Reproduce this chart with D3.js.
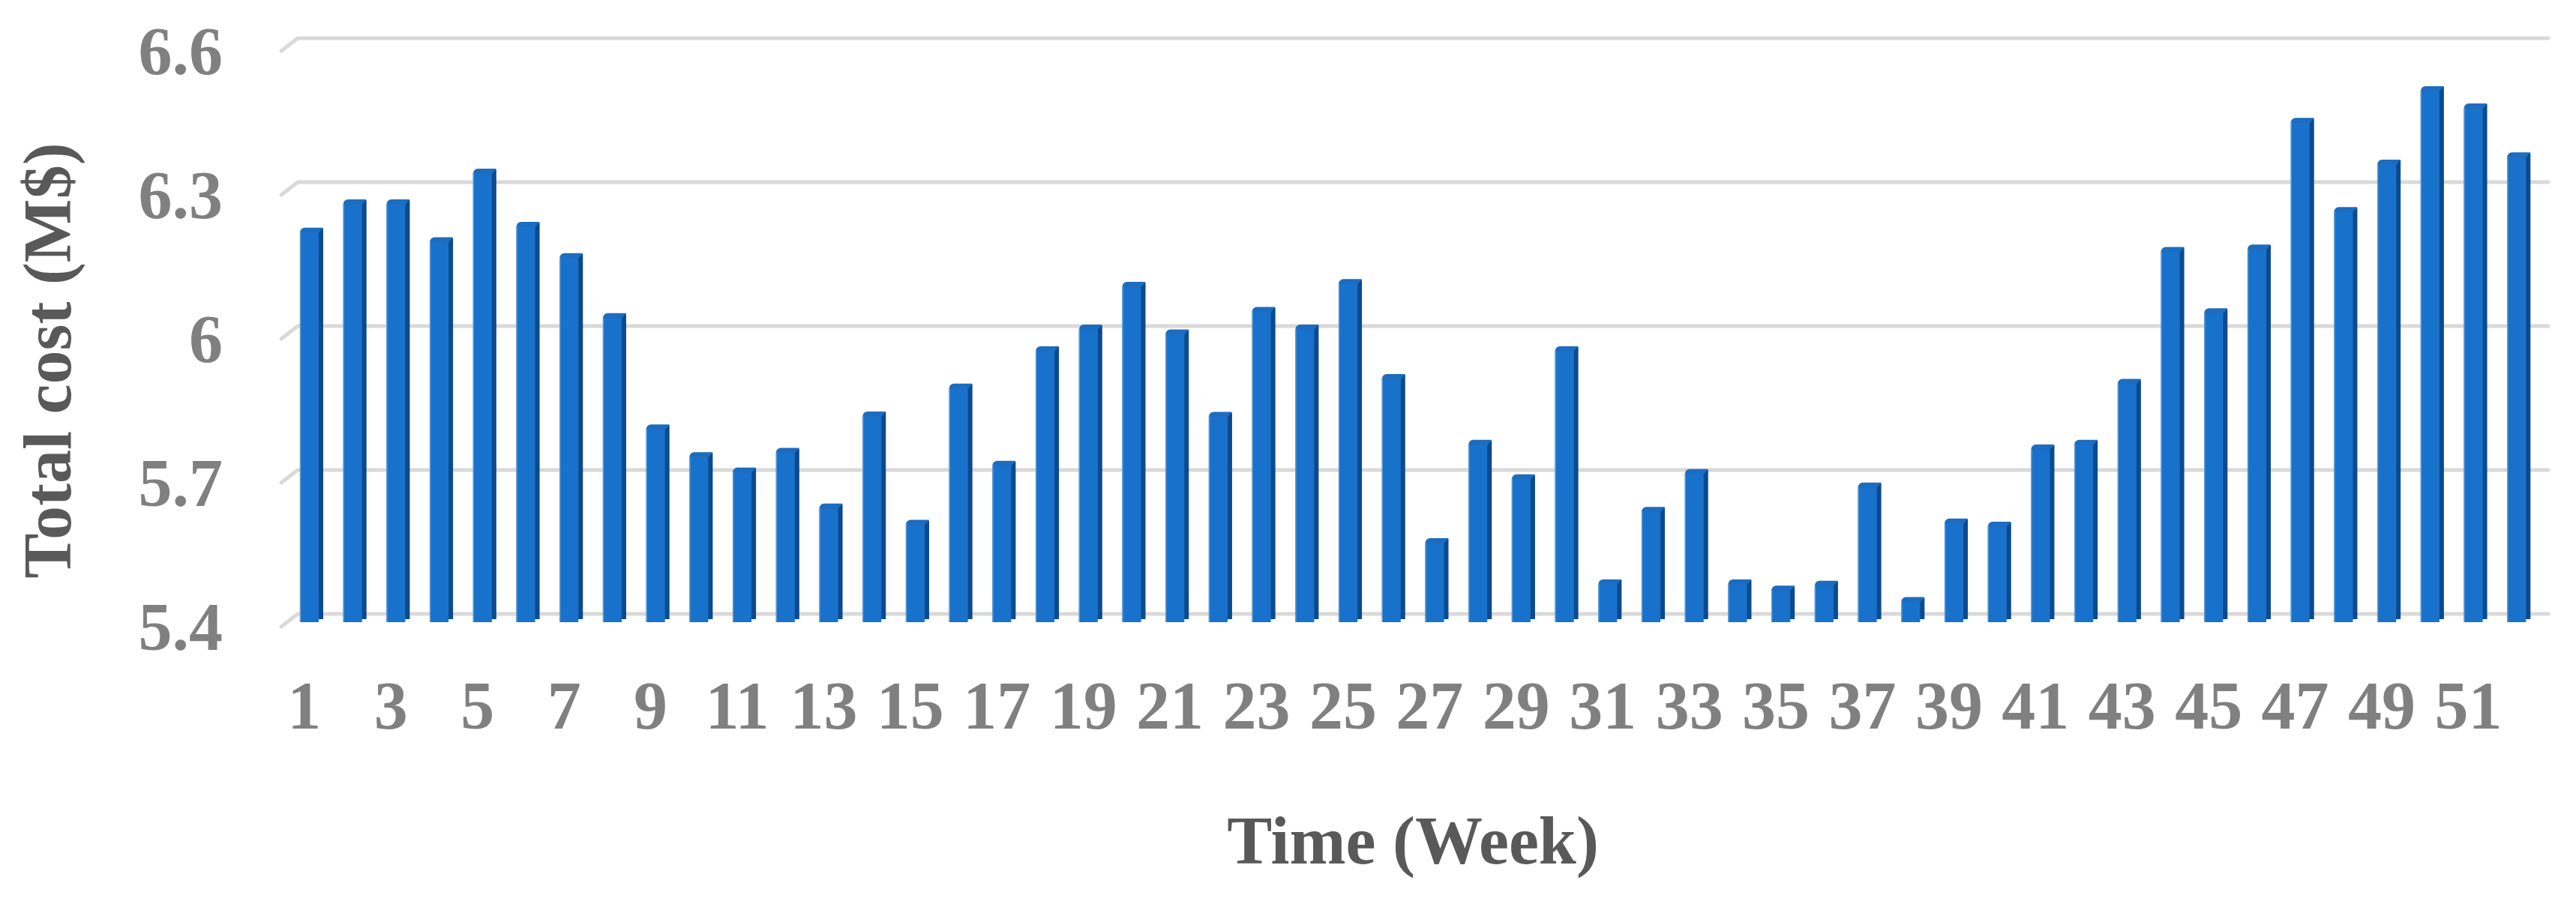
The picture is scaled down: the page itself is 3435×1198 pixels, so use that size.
<!DOCTYPE html>
<html>
<head>
<meta charset="utf-8">
<script src="https://cdn.jsdelivr.net/npm/d3@7"></script>
<style>
  html, body { margin: 0; padding: 0; background: #ffffff; }
  svg { display: block; }
</style>
</head>
<body>
<div id="chart"></div>
<script>
// ---- data ----
const weeks = d3.range(1, 53);
const totalCost = [
  6.205, 6.264, 6.264, 6.185, 6.328, 6.217, 6.152, 6.027, 5.795, 5.737,
  5.705, 5.746, 5.630, 5.822, 5.596, 5.880, 5.719, 5.958, 6.003, 6.092,
  5.993, 5.821, 6.040, 6.003, 6.098, 5.900, 5.558, 5.763, 5.691, 5.958,
  5.472, 5.623, 5.702, 5.472, 5.459, 5.469, 5.674, 5.435, 5.599, 5.592,
  5.753, 5.763, 5.890, 6.165, 6.037, 6.170, 6.434, 6.248, 6.347, 6.500,
  6.464, 6.362
];
const yTicks = [5.4, 5.7, 6.0, 6.3, 6.6];
const yTickLabels = ["5.4", "5.7", "6", "6.3", "6.6"];
const xTickWeeks = weeks.filter(w => w % 2 === 1);
const xTitle = "Time (Week)";
const yTitle = "Total cost (M$)";

// ---- layout ----
const W = 3435, H = 1198;
const backLeft = 397, backRight = 3398;
const depthDx = 22, depthDy = 17;
const barFront = 25, barSide = 6, barOffset = 3;
const barBottom = 830;

const svg = d3.select("#chart").append("svg")
  .attr("width", W).attr("height", H);
svg.append("rect").attr("width", W).attr("height", H).attr("fill", "#ffffff");

const x = d3.scaleBand().domain(weeks).range([backLeft, backRight]).padding(0);
const y = d3.scaleLinear().domain([5.4, 6.6]).range([819, 51]);

// gridlines (3D wall floor edges)
const grid = svg.append("g");
yTicks.forEach(v => {
  const yy = y(v);
  grid.append("path")
    .attr("d", `M${backLeft - depthDx},${yy + depthDy} L${backLeft},${yy} L${backRight},${yy}`)
    .attr("fill", "none")
    .attr("stroke", "#d9d9d9")
    .attr("stroke-width", 5)
    .attr("stroke-linecap", "round")
    .attr("stroke-linejoin", "round");
});

// bars
const bars = svg.append("g").selectAll("g").data(weeks.map((w, i) => ({w, v: totalCost[i]})))
  .enter().append("g");

bars.append("rect") // side face
  .attr("x", d => x(d.w) + barOffset + barFront - 1)
  .attr("y", d => y(d.v) + 1)
  .attr("width", barSide + 1)
  .attr("height", d => barBottom - 4 - y(d.v) - 1)
  .attr("fill", "#0d4a8c");

bars.append("rect") // front face
  .attr("x", d => x(d.w) + barOffset)
  .attr("y", d => y(d.v) + 6)
  .attr("width", barFront)
  .attr("height", d => barBottom - y(d.v) - 6)
  .attr("fill", "#1872cb");

bars.append("path") // top face
  .attr("d", d => {
    const x0 = x(d.w) + barOffset, yt = y(d.v);
    return `M${x0},${yt + 7} Q${x0},${yt + 1} ${x0 + 6},${yt} L${x0 + barFront + barSide},${yt} L${x0 + barFront},${yt + 7} Z`;
  })
  .attr("fill", "#1c6cc0");

bars.append("line") // light left edge
  .attr("x1", d => x(d.w) + barOffset + 0.5)
  .attr("x2", d => x(d.w) + barOffset + 0.5)
  .attr("y1", d => y(d.v) + 6)
  .attr("y2", barBottom)
  .attr("stroke", "#5e9ad8")
  .attr("stroke-width", 1.5);

// y axis labels
const fontFam = "'Liberation Serif', 'Times New Roman', serif";
const yAxis = d3.axisLeft(y).tickValues(yTicks)
  .tickFormat((d, i) => yTickLabels[i]).tickSize(0).tickPadding(0);
const gy = svg.append("g").attr("transform", "translate(297,19)").call(yAxis);
gy.select(".domain").remove();
gy.selectAll("text")
  .attr("font-family", fontFam).attr("font-weight", "bold")
  .attr("font-size", 90).attr("fill", "#808080");

// x axis labels
const xAxis = d3.axisBottom(x).tickValues(xTickWeeks).tickSize(0).tickPadding(0);
const gx = svg.append("g").attr("transform", "translate(-20,908)").call(xAxis);
gx.select(".domain").remove();
gx.selectAll("text")
  .attr("font-family", fontFam).attr("font-weight", "bold")
  .attr("font-size", 90).attr("fill", "#808080");

// axis titles
svg.append("text")
  .attr("x", 1884).attr("y", 1152)
  .attr("text-anchor", "middle")
  .attr("font-family", fontFam).attr("font-weight", "bold")
  .attr("font-size", 90).attr("fill", "#595959")
  .text(xTitle);

svg.append("text")
  .attr("transform", "translate(94,481) rotate(-90)")
  .attr("text-anchor", "middle")
  .attr("font-family", fontFam).attr("font-weight", "bold")
  .attr("font-size", 90).attr("fill", "#595959")
  .text(yTitle);
</script>
</body>
</html>
